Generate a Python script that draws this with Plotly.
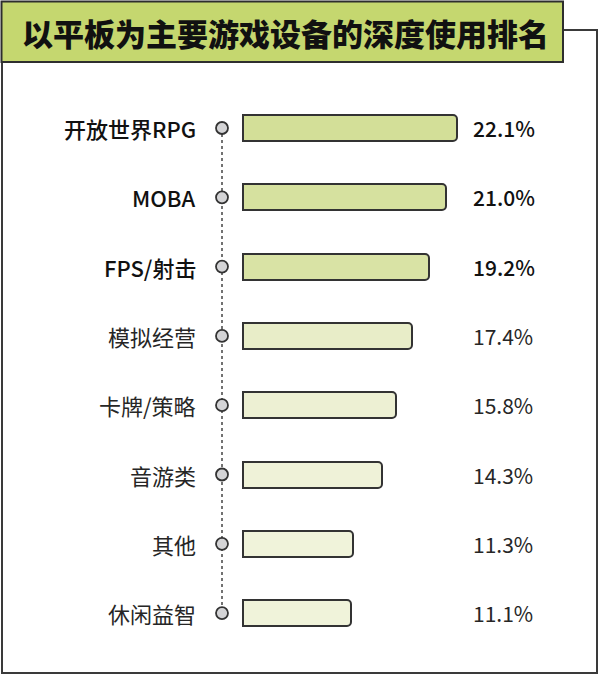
import plotly.graph_objects as go

# --- Data ---
categories = ["开放世界RPG", "MOBA", "FPS/射击", "模拟经营", "卡牌/策略", "音游类", "其他", "休闲益智"]
values = [22.1, 21.0, 19.2, 17.4, 15.8, 14.3, 11.3, 11.1]
value_labels = ["22.1%", "21.0%", "19.2%", "17.4%", "15.8%", "14.3%", "11.3%", "11.1%"]
title_text = "以平板为主要游戏设备的深度使用排名"

# --- Style ---
W, H = 600, 675
FONT = "Noto Sans CJK SC"
bar_colors = ["#d3df98", "#d6e19f", "#d9e3a5", "#e8edc8", "#edf0d3", "#eff2d8", "#f0f3da", "#f0f3da"]
px_per_unit = 9.69      # horizontal pixels per percentage point
zero_px = 243           # pixel x where bars start
row_px = 69.3           # vertical spacing between rows
first_row_px = 128      # pixel y of first bar centre

ypos = list(range(len(categories)))

fig = go.Figure()
fig.add_trace(go.Bar(
    x=values,
    y=ypos,
    orientation="h",
    width=26 / row_px,
    marker=dict(color=bar_colors, line=dict(color="#333333", width=2), cornerradius=4),
    hoverinfo="skip",
))

# --- Dotted guide line and dots ---
shapes = [dict(
    type="line", xref="x", yref="y", xsizemode="pixel", xanchor=0,
    x0=-21, x1=-21, y0=ypos[0], y1=ypos[-1],
    line=dict(color="#444444", width=1.5, dash="dot"), layer="below",
)]
for y in ypos:
    shapes.append(dict(
        type="circle", xref="x", yref="y",
        xsizemode="pixel", ysizemode="pixel", xanchor=0, yanchor=y,
        x0=-27, x1=-15, y0=-6, y1=6,
        fillcolor="#d4d4d6", line=dict(color="#333333", width=1.8),
    ))

# --- Frame and title box (paper coords) ---
def px_x(p):
    return p / W

def px_y(p):
    return 1 - p / H

shapes.append(dict(
    type="path", xref="paper", yref="paper",
    path=(f"M {px_x(563)} {px_y(30)} L {px_x(597)} {px_y(30)} L {px_x(597)} {px_y(673)} "
          f"L {px_x(2)} {px_y(673)} L {px_x(2)} {px_y(62)}"),
    line=dict(color="#3a3a3a", width=2),
))
shapes.append(dict(
    type="rect", xref="paper", yref="paper",
    x0=px_x(1.5), x1=px_x(563), y0=px_y(62), y1=px_y(1.5),
    fillcolor="#c5d76f", line=dict(color="#2e2e2e", width=2),
))

annotations = [dict(
    text=title_text, xref="paper", yref="paper",
    x=px_x(285), y=px_y(32), xanchor="center", yanchor="middle", showarrow=False,
    font=dict(family=FONT, size=31, color="#111111", weight=900),
)]

for i, (cat, lab) in enumerate(zip(categories, value_labels)):
    strong = i < 3
    weight = 500 if strong else 400
    color = "#111111" if strong else "#262626"
    annotations.append(dict(
        text=cat, xref="x", yref="y", x=0, y=ypos[i], xshift=-45,
        xanchor="right", yanchor="middle", showarrow=False,
        font=dict(family=FONT, size=22, color=color, weight=weight),
    ))
    annotations.append(dict(
        text=lab, xref="x", yref="y", x=0, y=ypos[i], xshift=228,
        xanchor="left", yanchor="middle", showarrow=False,
        font=dict(family=FONT, size=21, color=color, weight=weight),
    ))

fig.update_layout(
    width=W, height=H,
    margin=dict(l=0, r=0, t=0, b=0),
    paper_bgcolor="white", plot_bgcolor="white",
    showlegend=False,
    bargap=0,
    xaxis=dict(range=[-zero_px / px_per_unit, (W - zero_px) / px_per_unit],
               visible=False, fixedrange=True),
    yaxis=dict(range=[(H - first_row_px) / row_px, -first_row_px / row_px],
               visible=False, fixedrange=True),
    shapes=shapes,
    annotations=annotations,
)

# page body has a default 8px margin; drop it so the figure fills the window
fig.write_html("out.html", post_script="document.body.style.margin='0';",
               config={"displayModeBar": False})
